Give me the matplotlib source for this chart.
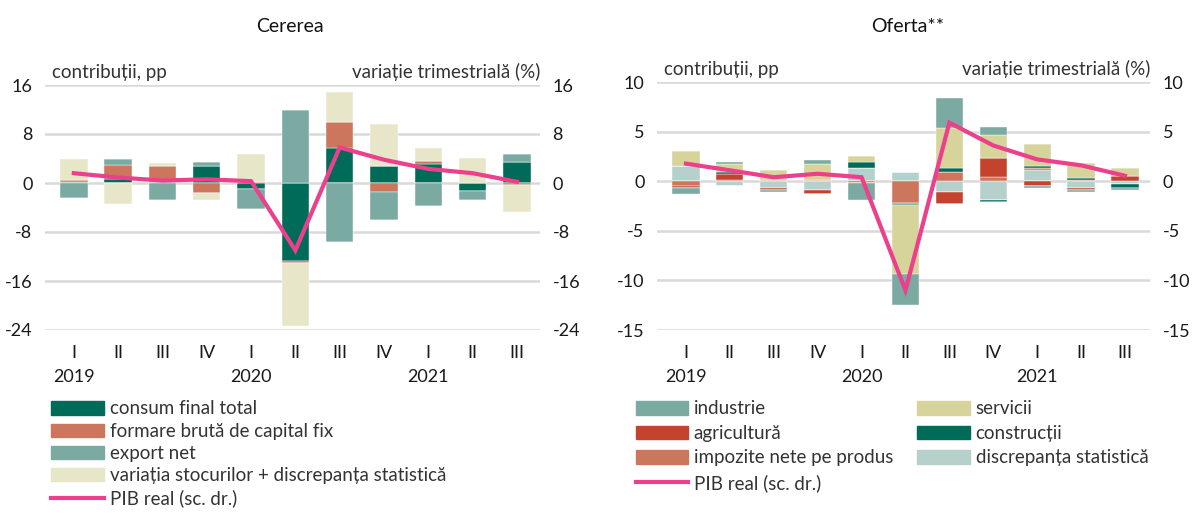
import numpy as np
import matplotlib
matplotlib.use("Agg")
from matplotlib import pyplot as plt
from matplotlib.patches import Patch
from matplotlib.lines import Line2D

plt.rcParams['font.family'] = ['Lato', 'DejaVu Sans']

quarters = ["I", "II", "III", "IV", "I", "II", "III", "IV", "I", "II", "III"]
years = ["2019", "2020", "2021"]

# Cererea - contributii, pp
consum = [0.2, 0.7, 0.1, 2.7, -1.0, -12.8, 5.7, 2.7, 3.1, -1.35, 3.4]
formare = [0.3, 2.2, 2.7, -1.7, 0.2, -0.3, 4.2, -1.4, 0.55, 0.0, -0.4]
export_net = [-2.4, 1.0, -2.7, 0.75, -3.3, 11.9, -9.6, -4.6, -3.7, -1.35, 1.4]
stocuri = [3.5, -3.4, 0.4, -1.0, 4.6, -10.2, 5.0, 7.0, 2.1, 4.1, -4.3]
pib_cerere = [1.6, 0.9, 0.4, 0.6, 0.3, -11.0, 5.8, 3.8, 2.3, 1.6, 0.2]

# Oferta - contributii, pp
industrie = [-0.6, 0.2, -0.25, 0.4, -1.7, -3.05, 3.0, 0.8, -0.25, -0.25, -0.2]
servicii = [1.5, 0.85, 1.0, 1.6, 0.6, -7.0, 4.1, 2.3, 2.25, 1.45, 0.85]
agricultura = [-0.24, 0.6, -0.15, -0.4, 0.0, -0.1, -1.25, 1.95, -0.45, -0.15, 0.5]
constructii = [0.0, 0.15, 0.0, 0.0, 0.55, -0.15, 0.4, -0.2, 0.2, 0.2, -0.4]
impozite = [-0.44, 0.15, 0.15, 0.15, -0.2, -2.15, 0.9, 0.4, 0.2, 0.15, 0.0]
discrepanta = [1.53, -0.5, -0.7, -0.9, 1.35, 0.9, -1.05, -1.9, 1.15, -0.7, -0.25]
pib_oferta = [1.77, 1.1, 0.4, 0.75, 0.4, -11.0, 5.9, 3.6, 2.2, 1.6, 0.55]

DARK_GREEN = "#006b58"
ORANGE = "#cc765d"
TEAL = "#7aaaa2"
BEIGE = "#e8e6c9"
OLIVE = "#d6d49b"
RED = "#c4432e"
LIGHT_TEAL = "#b6d0cc"
PINK = "#ec3f8c"
GRID = "#d9d9d9"
TXT = "#1a1a1a"

W, H = 1193, 522
fig = plt.figure(figsize=(W / 100, H / 100), dpi=100)


def px_axes(x0, x1, y_top, y_bot):
    return fig.add_axes([x0 / W, 1 - y_bot / H, (x1 - x0) / W, (y_bot - y_top) / H])


def stacked(ax, series, colors, x):
    pos = np.zeros(len(x))
    neg = np.zeros(len(x))
    for vals, c in zip(series, colors):
        v = np.array(vals, dtype=float)
        p = np.where(v > 0, v, 0)
        n = np.where(v < 0, v, 0)
        ax.bar(x, p, 0.62, bottom=pos, color=c, edgecolor="white", linewidth=0.3, zorder=2)
        ax.bar(x, n, 0.62, bottom=neg, color=c, edgecolor="white", linewidth=0.3, zorder=2)
        pos += p
        neg += n


def panel(ax, series, colors, pib, ylim, yticks, title, xlim, title_x):
    x = np.arange(len(quarters))
    stacked(ax, series, colors, x)
    ax.set_ylim(*ylim)
    ax.set_xlim(*xlim)
    ax.set_yticks(yticks)
    ax.set_yticklabels([str(t) for t in yticks], fontsize=13, color=TXT)
    for t in yticks:
        ax.axhline(t, color=GRID, linewidth=1.8, zorder=0)
    ax.set_xticks(x)
    ax.set_xticklabels(quarters, fontsize=13, color=TXT)
    ax.tick_params(axis="both", length=0)
    ax.tick_params(axis="x", pad=11)
    ax.tick_params(axis="y", pad=9)
    for s in ax.spines.values():
        s.set_visible(False)
    ax2 = ax.twinx()
    ax2.plot(x, pib, color=PINK, linewidth=3, zorder=5, solid_joinstyle="miter")
    ax2.set_ylim(*ylim)
    ax2.set_yticks(yticks)
    ax2.set_yticklabels([str(t) for t in yticks], fontsize=13, color=TXT)
    ax2.tick_params(axis="y", length=0, pad=9)
    for s in ax2.spines.values():
        s.set_visible(False)
    for i, yr in enumerate(years):
        ax.text(i * 4, -0.19, yr, transform=ax.get_xaxis_transform(),
                ha="center", va="center", fontsize=13, color=TXT)
    ax.text(0.015, 1.015, "contribuții, pp", transform=ax.transAxes,
            ha="left", va="bottom", fontsize=13.5, color="#333333")
    ax.text(1.0, 1.015, "variație trimestrială (%)", transform=ax.transAxes,
            ha="right", va="bottom", fontsize=13.5, color="#333333")
    fig.text(title_x / W, 1 - 27 / H, title, ha="center", va="center",
             fontsize=14, color="#111111")


ax1 = px_axes(45, 540, 85, 330)
panel(ax1, [consum, formare, export_net, stocuri],
      [DARK_GREEN, ORANGE, TEAL, BEIGE], pib_cerere,
      (-24, 16), [16, 8, 0, -8, -16, -24], "Cererea", (-0.65, 10.52), 290)

ax3 = px_axes(657, 1150, 82, 330)
panel(ax3, [discrepanta, impozite, agricultura, constructii, servicii, industrie],
      [LIGHT_TEAL, ORANGE, RED, DARK_GREEN, OLIVE, TEAL], pib_oferta,
      (-15, 10), [10, 5, 0, -5, -10, -15], "Oferta**", (-0.66, 10.57), 908)

pib_handle = Line2D([], [], color=PINK, linewidth=3)
left_handles = [Patch(color=DARK_GREEN), Patch(color=ORANGE), Patch(color=TEAL),
                Patch(color=BEIGE), pib_handle]
left_labels = ["consum final total", "formare brută de capital fix", "export net",
               "variația stocurilor + discrepanța statistică", "PIB real (sc. dr.)"]
fig.legend(left_handles, left_labels, loc="upper left",
           bbox_to_anchor=(44 / W, 1 - 393 / H), frameon=False, fontsize=13.5,
           handlelength=2.8, handleheight=0.7, labelspacing=0.28, handletextpad=0.3,
           borderaxespad=0, labelcolor="#333333")

right_handles = [Patch(color=TEAL), Patch(color=RED), Patch(color=ORANGE), pib_handle,
                 Patch(color=OLIVE), Patch(color=DARK_GREEN), Patch(color=LIGHT_TEAL)]
right_labels = ["industrie", "agricultură", "impozite nete pe produs", "PIB real (sc. dr.)",
                "servicii", "construcții", "discrepanța statistică"]
fig.legend(right_handles, right_labels, loc="upper left", ncol=2,
           bbox_to_anchor=(628 / W, 1 - 393 / H), frameon=False, fontsize=13.5,
           handlelength=2.8, handleheight=0.7, labelspacing=0.4, handletextpad=0.3,
           columnspacing=1.3, borderaxespad=0, labelcolor="#333333")

fig.savefig("out.png", dpi=100)
